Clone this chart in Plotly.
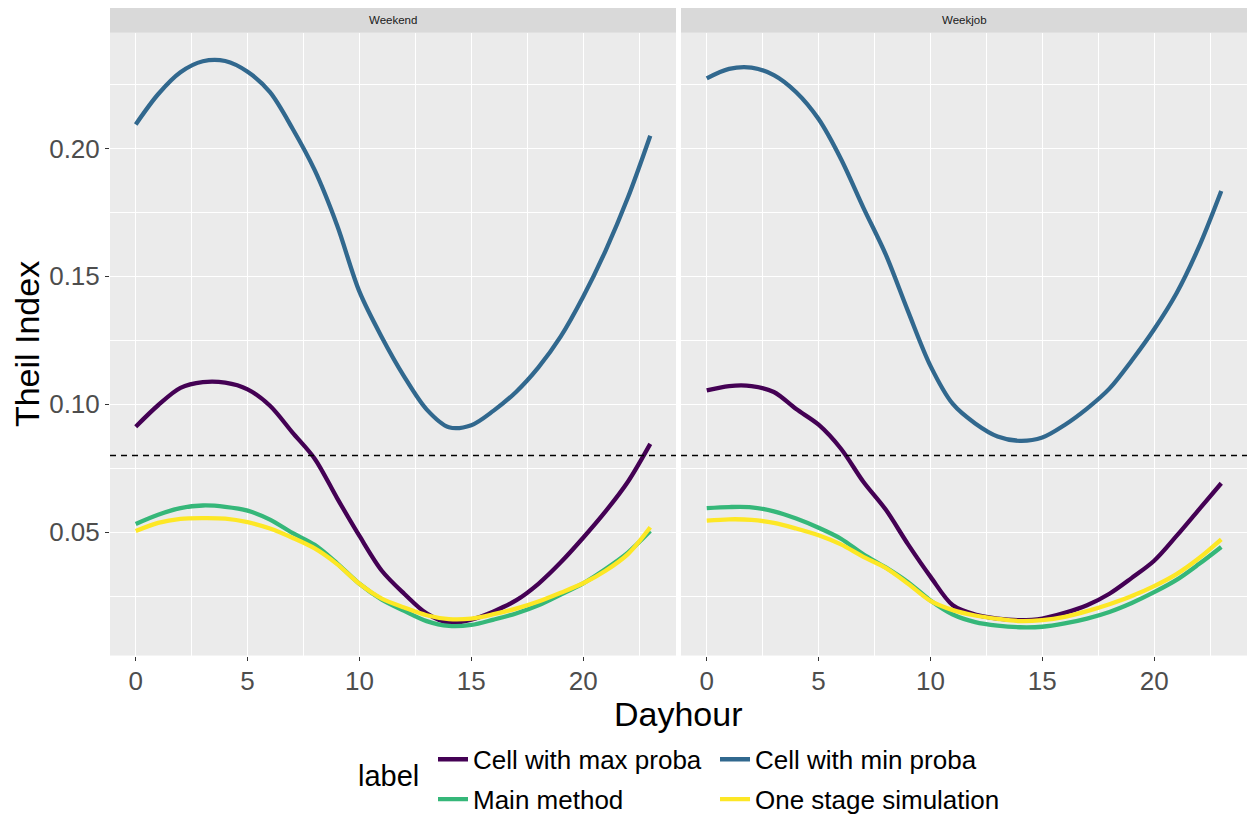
import plotly.graph_objects as go

# Theil index by hour of day, two day types, four allocation methods
hours = list(range(24))
panels = ["Weekend", "Weekjob"]
labels = ["Cell with max proba", "Cell with min proba", "Main method", "One stage simulation"]
colors = ["#440154", "#31688E", "#35B779", "#FDE725"]

weekend_max = [0.0912, 0.0996, 0.1064, 0.1086, 0.1084, 0.1058, 0.0994, 0.0890, 0.0787, 0.0633,
               0.0485, 0.0349, 0.0259, 0.0182, 0.0146, 0.0158, 0.0190, 0.0233, 0.0298, 0.0382,
               0.0478, 0.0581, 0.0697, 0.0845]
weekend_min = [0.2094, 0.2212, 0.2298, 0.2341, 0.2342, 0.2300, 0.2220, 0.2079, 0.1915, 0.1700,
               0.1440, 0.1262, 0.1108, 0.0980, 0.0910, 0.0918, 0.0975, 0.1048, 0.1144, 0.1265,
               0.1420, 0.1600, 0.1808, 0.2050]
weekend_main = [0.0532, 0.0568, 0.0594, 0.0604, 0.0599, 0.0584, 0.0549, 0.0497, 0.0450, 0.0378,
                0.0298, 0.0236, 0.0192, 0.0152, 0.0133, 0.0137, 0.0158, 0.0182, 0.0214, 0.0256,
                0.0300, 0.0356, 0.0420, 0.0504]
weekend_one = [0.0504, 0.0536, 0.0552, 0.0555, 0.0553, 0.0539, 0.0514, 0.0478, 0.0436, 0.0375,
               0.0298, 0.0240, 0.0205, 0.0175, 0.0160, 0.0162, 0.0179, 0.0201, 0.0229, 0.0263,
               0.0300, 0.0349, 0.0414, 0.0519]

weekjob_max = [0.1054, 0.1071, 0.1071, 0.1048, 0.0981, 0.0920, 0.0826, 0.0697, 0.0588, 0.0452,
               0.0326, 0.0214, 0.0178, 0.0162, 0.0156, 0.0162, 0.0184, 0.0214, 0.0259, 0.0321,
               0.0388, 0.0485, 0.0588, 0.0691]
weekjob_min = [0.2274, 0.2311, 0.2316, 0.2287, 0.2220, 0.2115, 0.1959, 0.1769, 0.1586, 0.1363,
               0.1150, 0.1001, 0.0925, 0.0874, 0.0857, 0.0870, 0.0919, 0.0983, 0.1061, 0.1171,
               0.1293, 0.1434, 0.1615, 0.1834]
weekjob_main = [0.0594, 0.0598, 0.0597, 0.0581, 0.0553, 0.0517, 0.0474, 0.0413, 0.0362, 0.0304,
                0.0233, 0.0178, 0.0148, 0.0134, 0.0128, 0.0130, 0.0143, 0.0162, 0.0188, 0.0223,
                0.0265, 0.0313, 0.0375, 0.0442]
weekjob_one = [0.0545, 0.0550, 0.0548, 0.0536, 0.0514, 0.0488, 0.0452, 0.0403, 0.0360, 0.0298,
               0.0231, 0.0195, 0.0174, 0.0161, 0.0152, 0.0156, 0.0169, 0.0191, 0.0218, 0.0250,
               0.0289, 0.0336, 0.0398, 0.0472]

threshold = 0.08

series = {
    "Weekend": [weekend_max, weekend_min, weekend_main, weekend_one],
    "Weekjob": [weekjob_max, weekjob_min, weekjob_main, weekjob_one],
}

W, H = 1247, 823
FONT = "Liberation Sans"

# panel geometry in pixels
x_doms = [(110, 676), (681, 1247)]
panel_top, panel_bot = 33, 662
strip_h = 25

fig = go.Figure()

# legend split in two columns: first column in "legend", second in "legend2"
legend_of = ["legend", "legend2", "legend", "legend2"]

for p, panel in enumerate(panels):
    xa = "x" if p == 0 else "x2"
    ya = "y" if p == 0 else "y2"
    for i, lab in enumerate(labels):
        fig.add_trace(go.Scatter(
            x=hours, y=series[panel][i], mode="lines", name=lab,
            line=dict(color=colors[i], width=4.3, shape="spline", smoothing=0.9),
            xaxis=xa, yaxis=ya, legend=legend_of[i], legendgroup=lab,
            showlegend=(p == 0), hoverinfo="skip",
        ))

# shared y range with 5% expansion like ggplot
all_vals = [v for pl in series.values() for s in pl for v in s] + [threshold]
lo, hi = min(all_vals), max(all_vals)
pad = (hi - lo) * 0.05
y_range = [lo - pad, hi + pad]
x_range = [min(hours) - 0.05 * (max(hours) - min(hours)), max(hours) + 0.05 * (max(hours) - min(hours))]

y_dom = [1 - panel_bot / H, 1 - panel_top / H]

tick_font = dict(family=FONT, size=26, color="#4D4D4D")
common_x = dict(range=x_range, tickmode="linear", tick0=0, dtick=5,
                showgrid=True, gridcolor="white", gridwidth=1.1,
                minor=dict(dtick=2.5, tick0=0, showgrid=True, gridcolor="white", gridwidth=0.55),
                ticks="outside", ticklen=4, tickwidth=1.1, tickcolor="#333333",
                ticklabelstandoff=-2,
                tickfont=tick_font, zeroline=False, showline=False)
common_y = dict(range=y_range, tickmode="linear", tick0=0, dtick=0.05, tickformat=".2f",
                showgrid=True, gridcolor="white", gridwidth=1.1,
                minor=dict(dtick=0.025, tick0=0, showgrid=True, gridcolor="white", gridwidth=0.55),
                zeroline=False, showline=False, domain=y_dom)

legend_y = 1 - 787 / H
fig.update_layout(
    width=W, height=H,
    margin=dict(l=0, r=0, t=0, b=0),
    paper_bgcolor="white", plot_bgcolor="#EBEBEB",
    font=dict(family=FONT, color="black"),
    xaxis=dict(domain=[x_doms[0][0] / W, x_doms[0][1] / W], anchor="y", **common_x),
    xaxis2=dict(domain=[x_doms[1][0] / W, x_doms[1][1] / W], anchor="y2", **common_x),
    yaxis=dict(anchor="x", ticks="outside", ticklen=4, tickwidth=1.1, tickcolor="#333333",
               tickfont=tick_font, **common_y),
    yaxis2=dict(anchor="x2", matches="y", showticklabels=False, ticks="", **common_y),
    legend=dict(
        font=dict(family=FONT, size=26, color="black"),
        x=433 / W, xanchor="left", y=legend_y, yanchor="middle",
        orientation="v", bgcolor="rgba(0,0,0,0)", tracegroupgap=3, itemwidth=30,
    ),
    legend2=dict(
        font=dict(family=FONT, size=26, color="black"),
        x=715 / W, xanchor="left", y=legend_y, yanchor="middle",
        orientation="v", bgcolor="rgba(0,0,0,0)", tracegroupgap=3, itemwidth=30,
    ),
)

shapes = []
annotations = []
for p, panel in enumerate(panels):
    xd = "x domain" if p == 0 else "x2 domain"
    yd = "y domain" if p == 0 else "y2 domain"
    ya = "y" if p == 0 else "y2"
    # dashed reference level
    shapes.append(dict(type="line", xref=xd, x0=0, x1=1, yref=ya, y0=threshold, y1=threshold,
                       line=dict(color="black", width=1.5, dash="6px,5px"), layer="above"))
    # facet strip
    strip_frac = strip_h / (panel_bot - panel_top)
    shapes.append(dict(type="rect", xref=xd, x0=0, x1=1, yref=yd, y0=1, y1=1 + strip_frac,
                       fillcolor="#D9D9D9", line=dict(width=0), layer="below"))
    annotations.append(dict(text=panel, xref=xd, x=0.5, yref=yd, y=1 + strip_frac / 2,
                            showarrow=False, xanchor="center", yanchor="middle",
                            font=dict(family=FONT, size=11.5, color="#1A1A1A")))

# legend title, centred on the two legend rows
annotations.append(dict(text="label", xref="paper", yref="paper", x=356 / W, y=1 - 784 / H,
                        showarrow=False, xanchor="left", yanchor="middle",
                        font=dict(family=FONT, size=29, color="black")))
annotations.append(dict(text="Dayhour", xref="paper", yref="paper",
                        x=(x_doms[0][0] + x_doms[1][1]) / 2 / W, y=1 - 721 / H,
                        showarrow=False, xanchor="center", yanchor="middle",
                        font=dict(family=FONT, size=34, color="black")))
annotations.append(dict(text="Theil Index", xref="paper", yref="paper",
                        x=27 / W, y=1 - (panel_top + panel_bot) / 2 / H, textangle=-90,
                        showarrow=False, xanchor="center", yanchor="middle",
                        font=dict(family=FONT, size=34, color="black")))

fig.update_layout(shapes=shapes, annotations=annotations)

fig.write_html("out.html")
